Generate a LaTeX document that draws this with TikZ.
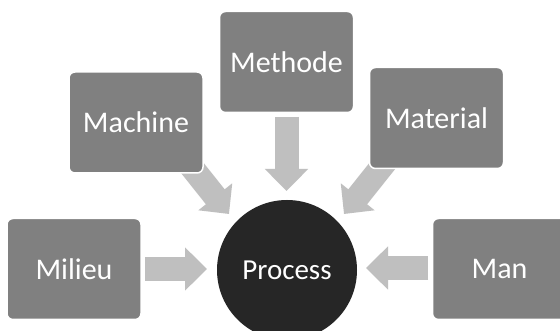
\documentclass[tikz,border=0pt]{standalone}
\usepackage{fontspec}
\setmainfont{Carlito}
\usetikzlibrary{arrows.meta,calc}
\definecolor{boxgray}{HTML}{808080}
\definecolor{arrgray}{HTML}{BFBFBF}
\definecolor{circfill}{HTML}{262626}
\tikzset{
  box/.style={fill=boxgray, draw=white, line width=1.5pt, rounded corners=6pt,
    minimum width=134pt, minimum height=101pt, text=white,
    font=\fontsize{30}{35}\selectfont, inner sep=0pt},
  blockarrow/.style={draw=arrgray, line width=24pt, -{Triangle[length=22pt,width=42pt]}},
}
\begin{document}
\begin{tikzpicture}[x=1pt,y=-1pt]
\clip (0,0) rectangle (560,331);
\fill[white] (0,0) rectangle (560,331);
% arrow end points
\coordinate (miA) at (145,269);
\coordinate (miB) at (207,269);
\coordinate (maA) at (428,268);
\coordinate (maB) at (366,268);
\coordinate (meA) at (286.5,117);
\coordinate (meB) at (286.5,191);
\coordinate (mcA) at (178,150);
\coordinate (mcB) at (229,214);
\coordinate (mtA) at (395,150);
\coordinate (mtB) at (344,214);
\draw[blockarrow] (miA) -- (miB);
\draw[blockarrow] (maA) -- (maB);
\draw[blockarrow] (meA) -- (meB);
\draw[blockarrow] (mcA) -- (mcB);
\draw[blockarrow] (mtA) -- (mtB);
% boxes
\node[box] (machine) at (136,122.5) {Machine};
\node[box] (methode) at (286.5,62) {Methode};
\node[box] (material) at (436.5,118) {Material};
\node[box] (milieu) at (74,269) {Milieu};
\node[box] (man) at (499.5,269) {Man};
\node[circle, fill=circfill, minimum size=140pt, inner sep=0pt, text=white,
  font=\fontsize{29}{34}\selectfont] (process) at (287,270) {Process};
\end{tikzpicture}
\end{document}
